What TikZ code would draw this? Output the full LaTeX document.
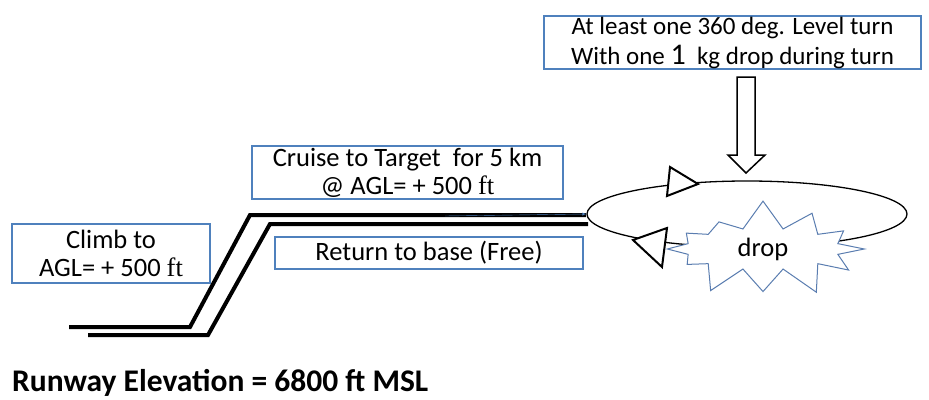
\documentclass[tikz,border=0pt]{standalone}
\usepackage{fontspec}
\setmainfont{Carlito}
\newfontfamily\serifft{Liberation Serif}
\usetikzlibrary{shapes.geometric,shapes.symbols}
\definecolor{boxblue}{HTML}{4F81BD}
\definecolor{burstblue}{HTML}{5A7DB0}
\tikzset{
  infobox/.style={draw=boxblue,line width=1.3pt,align=center,inner sep=0pt,
    font=\fontsize{26.5}{28}\selectfont},
  flightline/.style={line width=4pt},
  turnmark/.style={draw,line width=2pt,fill=white,line join=miter}
}
\newcommand{\ftunit}{{\serifft ft}}

\begin{document}
\begin{tikzpicture}[x=1pt,y=-1pt]
  \useasboundingbox (0,0) rectangle (929,399);
  \draw[flightline] (69,327) -- (190,327) -- (250,215) -- (586,215);
  \draw[flightline] (88,335) -- (208,335) -- (270,224) -- (588,224);
  \node[ellipse,draw,line width=1.3pt,minimum width=320pt,minimum height=66pt,inner sep=0pt]
    (orbit) at (747,214) {};
  \draw[boxblue,thin,-latex] (445,216) -- (orbit.west);
  \node[starburst,draw=burstblue,fill=white,line width=1pt,minimum width=215pt,minimum height=88pt,
    starburst point height=30pt,starburst points=12,random starburst=7,
    font=\fontsize{26.5}{28}\selectfont] (drop) at (763,249) {drop};
  \draw[turnmark] (670,167) -- (698,184) -- (667,196) -- cycle;
  \draw[turnmark] (667,228) -- (633,240) -- (662,267) -- cycle;
  \draw[line width=1.5pt,fill=white] (737,77) -- (755,77) -- (755,155) -- (765,155)
    -- (746,173) -- (728,155) -- (737,155) -- cycle;
  \node[infobox,minimum width=377pt,minimum height=53pt,font=\fontsize{25}{27}\selectfont]
    (turnbox) at (732.5,42.5)
    {At least one 360 deg. Level turn\\[3pt]With one {\fontsize{30}{27}\selectfont 1}\ \ kg drop during turn};
  \node[infobox,minimum width=311pt,minimum height=53pt] (cruisebox) at (407.5,172.5)
    {Cruise to Target\ \ for 5 km\\@ AGL= + 500 \ftunit};
  \node[infobox,minimum width=308pt,minimum height=32pt] (returnbox) at (429,253)
    {Return to base (Free)};
  \node[infobox,minimum width=198pt,minimum height=59pt] (climbbox) at (111,253.5)
    {Climb to\\AGL= + 500 \ftunit};
  \node[anchor=west,inner sep=0pt,font=\bfseries\fontsize{31.5}{36}\selectfont] (runway) at (12,383)
    {Runway Elevation = 6800 ft MSL};
\end{tikzpicture}
\end{document}
